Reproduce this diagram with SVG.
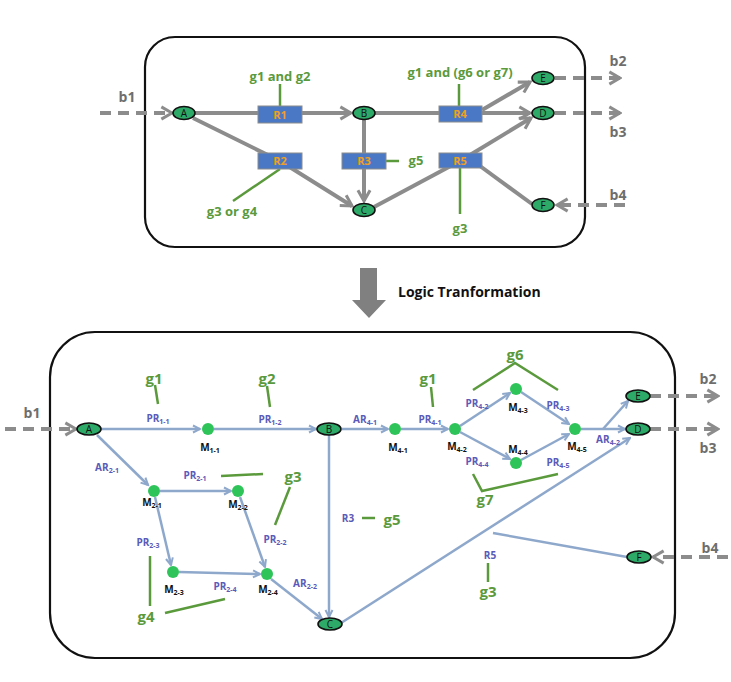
<svg xmlns="http://www.w3.org/2000/svg" width="731" height="682" viewBox="0 0 731 682">
<defs>
<marker id="ag" viewBox="0 0 10 10" refX="8.5" refY="5" markerWidth="3.8" markerHeight="3.8" orient="auto" markerUnits="strokeWidth"><path d="M1.5,1 L8.5,5 L1.5,9" fill="none" stroke="#8c8c8c" stroke-width="2"/></marker>
<marker id="ab" viewBox="0 0 10 10" refX="8.5" refY="5" markerWidth="4" markerHeight="4" orient="auto" markerUnits="strokeWidth"><path d="M1.5,1.5 L8.5,5 L1.5,8.5" fill="none" stroke="#8ea8cc" stroke-width="2"/></marker>
<style>
.box{fill:none;stroke:#111;stroke-width:2.2}
.ge{fill:none;stroke:#8c8c8c;stroke-width:4}
.gd{fill:none;stroke:#8c8c8c;stroke-width:4;stroke-dasharray:11 7}
.be{fill:none;stroke:#8ea8cc;stroke-width:2.5}
.gl{fill:none;stroke:#5b9a3c;stroke-width:2.5}
.nd{fill:#2eaa68;stroke:#111;stroke-width:1.6}
.md{fill:#2ec45a}
.rb{fill:#4a78c4;stroke:#8c8c8c;stroke-width:1}
.t{font-family:"Open Sans","Liberation Sans",sans-serif;font-weight:bold;text-anchor:middle}
.gt{fill:#5b9a3c;font-size:13px}
.gb{fill:#5b9a3c;font-size:15px}
.rt{fill:#f0a020;font-size:11px}
.nt{fill:#111;font-size:10px;font-weight:normal}
.bt{fill:#6e6e6e;font-size:14px}
.pt{fill:#5a5ab8;font-size:10px}
.mt{fill:#111;font-size:10px}
.sb{font-size:7px}
</style>
</defs>

<!-- top frame -->
<rect class="box" x="145" y="37" width="440" height="210" rx="30"/>

<g id="top-connectors">
<path class="gd" d="M100,113 H172" marker-end="url(#ag)"/>
<path class="ge" d="M195,113 H351" marker-end="url(#ag)"/>
<path class="ge" d="M193,118 L280,161 L352,206" marker-end="url(#ag)"/>
<path class="ge" d="M364,120 V201" marker-end="url(#ag)"/>
<path class="ge" d="M375,113 H460"/>
<path class="ge" d="M482,110 L530,82" marker-end="url(#ag)"/>
<path class="ge" d="M482,113 H530" marker-end="url(#ag)"/>
<path class="ge" d="M374,207 L460,161"/>
<path class="ge" d="M470,155 L531,118" marker-end="url(#ag)"/>
<path class="ge" d="M532,204 L480,166"/>
<path class="gd" d="M555,78 H620" marker-end="url(#ag)"/>
<path class="gd" d="M555,113 H620" marker-end="url(#ag)"/>
<path class="gd" d="M625,205 H557" marker-end="url(#ag)"/>
<path class="gl" d="M280,84 V106"/>
<path class="gl" d="M280,169 L233,201"/>
<path class="gl" d="M386,161 H399"/>
<path class="gl" d="M459,84 V106"/>
<path class="gl" d="M460,168 V214"/>
</g>

<g id="tA"><ellipse class="nd" cx="184" cy="113" rx="11" ry="6.5"/><text class="t nt" x="184" y="117">A</text></g>
<g id="tB"><ellipse class="nd" cx="364" cy="113" rx="11" ry="6.5"/><text class="t nt" x="364" y="117">B</text></g>
<g id="tC"><ellipse class="nd" cx="364" cy="210" rx="11" ry="6.5"/><text class="t nt" x="364" y="214">C</text></g>
<g id="tD"><ellipse class="nd" cx="543" cy="113" rx="11" ry="6.5"/><text class="t nt" x="543" y="117">D</text></g>
<g id="tE"><ellipse class="nd" cx="543" cy="78" rx="11" ry="6.5"/><text class="t nt" x="543" y="82">E</text></g>
<g id="tF"><ellipse class="nd" cx="543" cy="205" rx="11" ry="6.5"/><text class="t nt" x="543" y="209">F</text></g>
<g id="R1"><rect class="rb" x="258" y="106" width="44" height="17"/><text class="t rt" x="280" y="118.5">R1</text></g>
<g id="R2"><rect class="rb" x="258" y="153" width="44" height="16"/><text class="t rt" x="280" y="165">R2</text></g>
<g id="R3"><rect class="rb" x="342" y="153" width="44" height="16"/><text class="t rt" x="364" y="165">R3</text></g>
<g id="R4"><rect class="rb" x="439" y="106" width="43" height="16"/><text class="t rt" x="460" y="118">R4</text></g>
<g id="R5"><rect class="rb" x="439" y="153" width="43" height="15"/><text class="t rt" x="460" y="164.5">R5</text></g>

<g id="top-labels">
<text class="t gt" x="280" y="81">g1 and g2</text>
<text class="t gt" x="232" y="216">g3 or g4</text>
<text class="t gt" x="416" y="165">g5</text>
<text class="t gt" x="460" y="77">g1 and (g6 or g7)</text>
<text class="t gt" x="460" y="233">g3</text>
<text class="t bt" x="127" y="102">b1</text>
<text class="t bt" x="618" y="66">b2</text>
<text class="t bt" x="618" y="137">b3</text>
<text class="t bt" x="618" y="200">b4</text>
</g>

<!-- transformation arrow -->
<g id="transform">
<path d="M360,268 H377 V300 H386 L369,318 L352,300 H360 Z" fill="#808080"/>
<text x="398" y="297" font-family="'Open Sans','Liberation Sans',sans-serif" font-weight="bold" font-size="14" fill="#111">Logic Tranformation</text>
</g>

<!-- bottom frame -->
<rect class="box" x="50" y="332" width="625" height="326" rx="45"/>

<g id="bottom-connectors">
<path class="gd" d="M5,429 H76" marker-end="url(#ag)"/>
<path class="be" d="M101,429 H200" marker-end="url(#ab)"/>
<path class="be" d="M214,429 H316" marker-end="url(#ab)"/>
<path class="be" d="M342,429 H388" marker-end="url(#ab)"/>
<path class="be" d="M401,429 H448" marker-end="url(#ab)"/>
<path class="be" d="M460,426 L510,393" marker-end="url(#ab)"/>
<path class="be" d="M460,432 L510,459" marker-end="url(#ab)"/>
<path class="be" d="M521,392 L569,424" marker-end="url(#ab)"/>
<path class="be" d="M521,460 L569,434" marker-end="url(#ab)"/>
<path class="be" d="M581,429 H625" marker-end="url(#ab)"/>
<path class="be" d="M603,429 L628,401" marker-end="url(#ab)"/>
<path class="be" d="M97,435 L148,485" marker-end="url(#ab)"/>
<path class="be" d="M160,491 H231" marker-end="url(#ab)"/>
<path class="be" d="M155,497 L171,565" marker-end="url(#ab)"/>
<path class="be" d="M240,497 L265,567" marker-end="url(#ab)"/>
<path class="be" d="M179,572 L260,574" marker-end="url(#ab)"/>
<path class="be" d="M271,579 L322,619" marker-end="url(#ab)"/>
<path class="be" d="M329,435 V617" marker-end="url(#ab)"/>
<path class="be" d="M341,623 L630,438" marker-end="url(#ab)"/>
<path class="be" d="M627,557 L493,533"/>
<path class="gd" d="M650,396 H718" marker-end="url(#ag)"/>
<path class="gd" d="M650,429 H718" marker-end="url(#ag)"/>
<path class="gd" d="M728,557 H653" marker-end="url(#ag)"/>
<path class="gl" d="M155,385 L158,404"/>
<path class="gl" d="M267,386 L270,407"/>
<path class="gl" d="M431,387 L433,407"/>
<path class="gl" d="M473,390 L515,363 L558,390"/>
<path class="gl" d="M473,474 L482,491 L558,474"/>
<path class="gl" d="M221,476 L263,474"/>
<path class="gl" d="M290,487 L275,525"/>
<path class="gl" d="M150,556 V606"/>
<path class="gl" d="M165,613 L225,599"/>
<path class="gl" d="M362,518 H375"/>
<path class="gl" d="M488,563 V582"/>
</g>

<g id="bA"><ellipse class="nd" cx="89" cy="429" rx="12" ry="6"/><text class="t nt" x="89" y="433">A</text></g>
<g id="bB"><ellipse class="nd" cx="329" cy="429" rx="12" ry="6"/><text class="t nt" x="329" y="433">B</text></g>
<g id="bC"><ellipse class="nd" cx="330" cy="624" rx="12" ry="6"/><text class="t nt" x="330" y="628">C</text></g>
<g id="bD"><ellipse class="nd" cx="638" cy="429" rx="12" ry="6"/><text class="t nt" x="638" y="433">D</text></g>
<g id="bE"><ellipse class="nd" cx="638" cy="396" rx="12" ry="6"/><text class="t nt" x="638" y="400">E</text></g>
<g id="bF"><ellipse class="nd" cx="639" cy="557" rx="12" ry="6"/><text class="t nt" x="639" y="561">F</text></g>

<g id="M1-1"><circle class="md" cx="208" cy="429" r="6"/><text class="t mt" x="210" y="451">M<tspan class="sb" dy="2">1-1</tspan></text></g>
<g id="M2-1"><circle class="md" cx="154" cy="491" r="6"/><text class="t mt" x="152" y="506">M<tspan class="sb" dy="2">2-1</tspan></text></g>
<g id="M2-2"><circle class="md" cx="238" cy="491" r="6"/><text class="t mt" x="238" y="508">M<tspan class="sb" dy="2">2-2</tspan></text></g>
<g id="M2-3"><circle class="md" cx="173" cy="572" r="6"/><text class="t mt" x="174" y="593">M<tspan class="sb" dy="2">2-3</tspan></text></g>
<g id="M2-4"><circle class="md" cx="267" cy="574" r="6"/><text class="t mt" x="268" y="593">M<tspan class="sb" dy="2">2-4</tspan></text></g>
<g id="M4-1"><circle class="md" cx="395" cy="429" r="6"/><text class="t mt" x="398" y="451">M<tspan class="sb" dy="2">4-1</tspan></text></g>
<g id="M4-2"><circle class="md" cx="455" cy="429" r="6"/><text class="t mt" x="457" y="450">M<tspan class="sb" dy="2">4-2</tspan></text></g>
<g id="M4-3"><circle class="md" cx="516" cy="389" r="6"/><text class="t mt" x="518" y="411">M<tspan class="sb" dy="2">4-3</tspan></text></g>
<g id="M4-4"><circle class="md" cx="516" cy="463" r="6"/><text class="t mt" x="518" y="453">M<tspan class="sb" dy="2">4-4</tspan></text></g>
<g id="M4-5"><circle class="md" cx="575" cy="429" r="6"/><text class="t mt" x="577" y="450">M<tspan class="sb" dy="2">4-5</tspan></text></g>

<g id="bottom-labels">
<text class="t pt" x="158" y="422">PR<tspan class="sb" dy="2">1-1</tspan></text>
<text class="t pt" x="270" y="423">PR<tspan class="sb" dy="2">1-2</tspan></text>
<text class="t pt" x="365" y="423">AR<tspan class="sb" dy="2">4-1</tspan></text>
<text class="t pt" x="430" y="423">PR<tspan class="sb" dy="2">4-1</tspan></text>
<text class="t pt" x="477" y="407">PR<tspan class="sb" dy="2">4-2</tspan></text>
<text class="t pt" x="558" y="409">PR<tspan class="sb" dy="2">4-3</tspan></text>
<text class="t pt" x="477" y="465">PR<tspan class="sb" dy="2">4-4</tspan></text>
<text class="t pt" x="558" y="466">PR<tspan class="sb" dy="2">4-5</tspan></text>
<text class="t pt" x="608" y="443">AR<tspan class="sb" dy="2">4-2</tspan></text>
<text class="t pt" x="107" y="471">AR<tspan class="sb" dy="2">2-1</tspan></text>
<text class="t pt" x="195" y="479">PR<tspan class="sb" dy="2">2-1</tspan></text>
<text class="t pt" x="275" y="543">PR<tspan class="sb" dy="2">2-2</tspan></text>
<text class="t pt" x="148" y="546">PR<tspan class="sb" dy="2">2-3</tspan></text>
<text class="t pt" x="225" y="590">PR<tspan class="sb" dy="2">2-4</tspan></text>
<text class="t pt" x="305" y="587">AR<tspan class="sb" dy="2">2-2</tspan></text>
<text class="t pt" x="348" y="522">R3</text>
<text class="t pt" x="490" y="559">R5</text>
<text class="t gb" x="154" y="384">g1</text>
<text class="t gb" x="267" y="384">g2</text>
<text class="t gb" x="428" y="384">g1</text>
<text class="t gb" x="515" y="360">g6</text>
<text class="t gb" x="485" y="505">g7</text>
<text class="t gb" x="293" y="482">g3</text>
<text class="t gb" x="146" y="622">g4</text>
<text class="t gb" x="392" y="525">g5</text>
<text class="t gb" x="488" y="597">g3</text>
<text class="t bt" x="32" y="418">b1</text>
<text class="t bt" x="708" y="384">b2</text>
<text class="t bt" x="708" y="453">b3</text>
<text class="t bt" x="710" y="553">b4</text>
</g>
</svg>
